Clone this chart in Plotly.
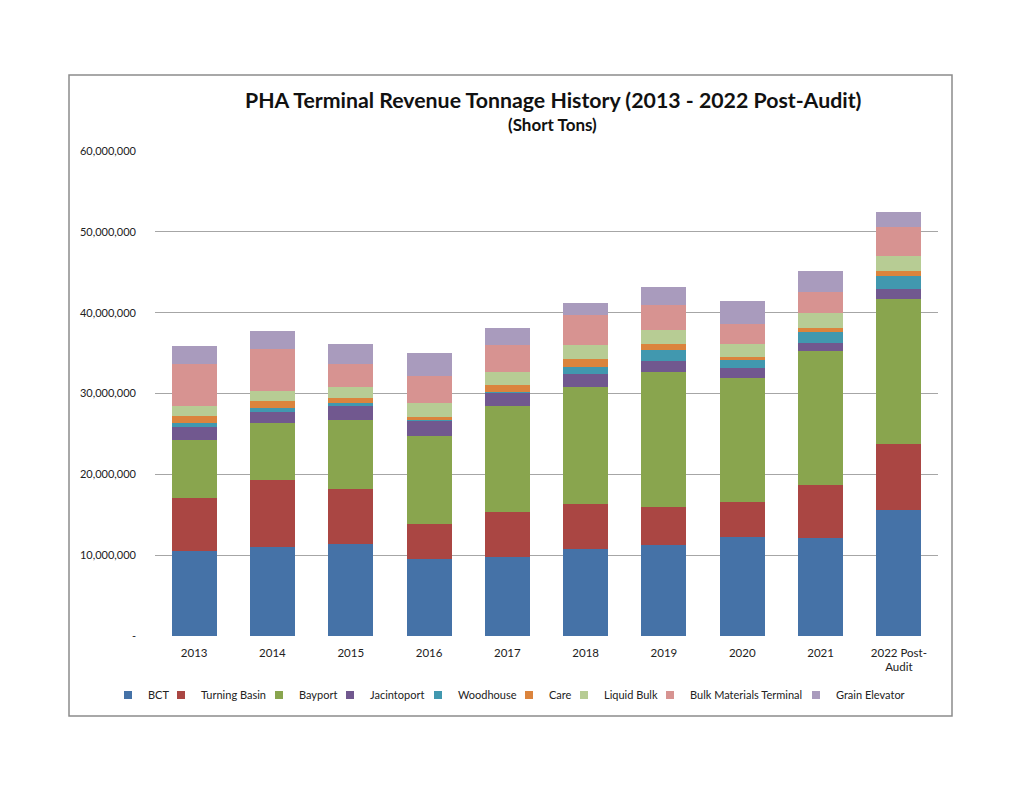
import plotly.graph_objects as go

years = ["2013", "2014", "2015", "2016", "2017", "2018", "2019", "2020", "2021", "2022 Post-<br>Audit"]

bct = [10.55, 11.0, 11.4, 9.5, 9.8, 10.75, 11.2, 12.3, 12.15, 15.6]
turning_basin = [6.55, 8.3, 6.75, 4.4, 5.6, 5.55, 4.75, 4.25, 6.5, 8.15]
bayport = [7.2, 7.0, 8.55, 10.9, 13.05, 14.55, 16.65, 15.4, 16.55, 17.9]
jacintoport = [1.6, 1.45, 1.75, 1.8, 1.7, 1.55, 1.4, 1.25, 1.0, 1.25]
woodhouse = [0.4, 0.45, 0.35, 0.1, 0.05, 0.9, 1.35, 0.95, 1.35, 1.65]
care = [0.9, 0.9, 0.7, 0.4, 0.8, 1.0, 0.75, 0.4, 0.55, 0.65]
liquid_bulk = [1.3, 1.2, 1.3, 1.7, 1.7, 1.65, 1.75, 1.55, 1.8, 1.8]
bulk_materials = [5.1, 5.2, 2.9, 3.4, 3.3, 3.8, 3.1, 2.55, 2.6, 3.55]
grain_elevator = [2.3, 2.2, 2.4, 2.85, 2.15, 1.4, 2.25, 2.75, 2.6, 1.95]

series_names = ["BCT", "Turning Basin", "Bayport", "Jacintoport", "Woodhouse",
                "Care", "Liquid Bulk", "Bulk Materials Terminal", "Grain Elevator"]
series_values = [bct, turning_basin, bayport, jacintoport, woodhouse,
                 care, liquid_bulk, bulk_materials, grain_elevator]

y_ticks = [0, 10e6, 20e6, 30e6, 40e6, 50e6, 60e6]
y_tick_text = ["-", "10,000,000", "20,000,000", "30,000,000", "40,000,000", "50,000,000", "60,000,000"]

# ---- styling / layout (not data) ----
colors = ["#4572A7", "#AA4643", "#89A54E", "#71588F", "#4198AF",
          "#DB843D", "#B7CC94", "#D79391", "#A99BBD"]
legend_square_x = [124, 177, 275, 346, 434, 525, 580, 666, 812]  # page px of each legend key

FONT = "Lato, Carlito, Calibri, sans-serif"
OFF = 8  # page body margin
W, H = 1024 - 2 * OFF, 791 - 2 * OFF
L, R, T, B = 155 - OFF, 86 - OFF, 151 - OFF, 155 - OFF
pw, ph = W - L - R, H - T - B


def px(x):
    return (x - OFF - L) / pw


def py(y):
    return (H - B - (y - OFF)) / ph


fig = go.Figure()
for i, (name, vals) in enumerate(zip(series_names, series_values)):
    lg = "legend" if i == 0 else f"legend{i + 1}"
    fig.add_trace(go.Bar(
        name=name, x=years, y=[v * 1e6 for v in vals],
        marker=dict(color=colors[i], line=dict(width=0)),
        showlegend=False, legendgroup=name,
    ))
    # legend key only (no data drawn)
    fig.add_trace(go.Scatter(
        name=name, x=[None], y=[None], mode="markers",
        marker=dict(symbol="square", size=8, color=colors[i]),
        showlegend=True, legendgroup=name, legend=lg,
        hoverinfo="skip",
    ))

legends = {}
for i, sx in enumerate(legend_square_x):
    key = "legend" if i == 0 else f"legend{i + 1}"
    legends[key] = dict(
        orientation="h",
        x=px(sx - 16), xanchor="left",
        y=py(695), yanchor="middle",
        font=dict(size=11, family=FONT, color="#222222"),
        itemwidth=30, bgcolor="rgba(0,0,0,0)", borderwidth=0,
    )

fig.update_layout(
    width=W, height=H,
    barmode="stack",
    bargap=0.425,
    paper_bgcolor="white",
    plot_bgcolor="white",
    margin=dict(l=L, r=R, t=T, b=B, autoexpand=False),
    font=dict(family=FONT, size=11, color="#222222"),
    showlegend=True,
    xaxis=dict(
        showgrid=False, showline=False, ticks="",
        tickfont=dict(size=11.5, family=FONT, color="#222222"),
        ticklabelstandoff=8,
    ),
    yaxis=dict(
        range=[0, 60e6],
        tickvals=y_ticks, ticktext=y_tick_text,
        showgrid=True, gridcolor="#A6A6A6", gridwidth=1,
        zeroline=False, showline=False, ticks="",
        tickfont=dict(size=11, family=FONT, color="#222222"),
        ticklabelstandoff=18,
    ),
    annotations=[
        dict(text="<b>PHA Terminal Revenue Tonnage History (2013 - 2022 Post-Audit)</b>",
             x=px(553), y=py(100), xref="paper", yref="paper",
             xanchor="center", yanchor="middle", showarrow=False,
             font=dict(size=21.3, family=FONT, color="#111111")),
        dict(text="<b>(Short Tons)</b>",
             x=px(552), y=py(125), xref="paper", yref="paper",
             xanchor="center", yanchor="middle", showarrow=False,
             font=dict(size=17, family=FONT, color="#111111")),
    ],
    shapes=[
        dict(type="rect", xref="paper", yref="paper",
             x0=px(69), x1=px(952), y0=py(716), y1=py(75),
             line=dict(color="#8C8C8C", width=1.5), fillcolor="rgba(0,0,0,0)",
             layer="below"),
    ],
    **legends,
)

fig.write_html("out.html")
